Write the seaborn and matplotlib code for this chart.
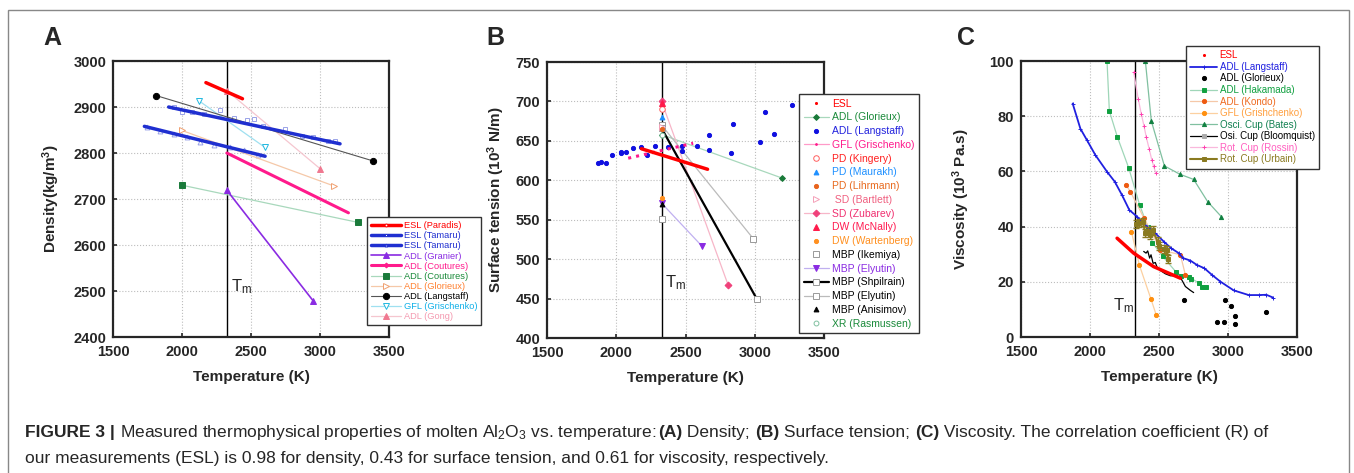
import matplotlib
matplotlib.use('Agg')
import matplotlib.pyplot as plt
import seaborn as sns
from matplotlib.lines import Line2D
from matplotlib.patches import Rectangle

sns.set_style('ticks')
plt.rcParams['font.family'] = ['Liberation Sans', 'DejaVu Sans']
plt.rcParams['mathtext.default'] = 'regular'

T_MELT = 2327

# ---------------- (A) density ----------------
a_paradis_t, a_paradis_v = [2173, 2438], [2953, 2918]
a_tamaru1_t, a_tamaru1_v = [1903, 3145], [2900, 2820]
a_tamaru1_pt_t = [1939, 2000, 2072, 2156, 2277, 2373, 2470, 2518, 2590, 2747, 2868, 2952, 3061, 3109]
a_tamaru1_pt_v = [2899, 2889, 2889, 2884, 2893, 2877, 2871, 2873, 2858, 2852, 2838, 2835, 2826, 2826]
a_tamaru2_t, a_tamaru2_v = [1727, 2602], [2858, 2793]
a_tamaru2_pt_t = [1746, 1843, 1939, 2036, 2132, 2229, 2349, 2446, 2554]
a_tamaru2_pt_v = [2857, 2847, 2842, 2835, 2824, 2817, 2814, 2806, 2795]
a_granier_t, a_granier_v = [2325, 2952], [2719, 2478]
a_cout1_t, a_cout1_v = [2325, 3206], [2800, 2670]
a_cout2_t, a_cout2_v = [2000, 3278], [2730, 2649]
a_glorieux_t, a_glorieux_v = [2000, 3104], [2849, 2728]
a_langstaff_t, a_langstaff_v = [1811, 3382], [2925, 2783]
a_grisch_t, a_grisch_v = [2120, 2602], [2914, 2812]
a_gong_t, a_gong_v = [2327, 3000], [2935, 2766]

# ---------------- (B) surface tension ----------------
b_esl_t, b_esl_v = [2182, 2659], [640, 614]
b_glorieux_t, b_glorieux_v = [2327, 3194], [658, 603]
b_langstaff_t = [1871, 1893, 1924, 1972, 2033, 2037, 2073, 2122, 2175, 2223, 2278, 2370,
                 2471, 2476, 2580, 2671, 2671, 2825, 2842, 3040, 3073, 3141, 3271]
b_langstaff_v = [622, 623, 622, 632, 634, 636, 636, 641, 642, 632, 643, 642,
                 644, 637, 643, 657, 638, 635, 672, 649, 687, 659, 695]
b_grisch_t, b_grisch_v = [2086, 2555], [628, 647]
b_kingery_t, b_kingery_v = [2327], [690]
b_maurakh_t, b_maurakh_v = [2327], [680]
b_lihrmann_t, b_lihrmann_v = [2327], [665]
b_bartlett_t, b_bartlett_v = [2327], [668]
b_zubarev_t, b_zubarev_v = [2327, 2808], [700, 467]
b_mcnally_t, b_mcnally_v = [2327], [698]
b_warten_t, b_warten_v = [2327], [577]
b_ikemiya_t, b_ikemiya_v = [2327], [551]
b_elyutin1_t, b_elyutin1_v = [2327, 2616], [571, 517]
b_shpil_t, b_shpil_v = [2327, 3013], [666, 450]
b_elyutin2_t, b_elyutin2_v = [2327, 2989], [670, 526]
b_anisimov_t, b_anisimov_v = [2327], [570]
b_rasmussen_t, b_rasmussen_v = [2327], [658]

# ---------------- (C) viscosity ----------------
c_esl_t, c_esl_v = [2196, 2316, 2461, 2655], [35.8, 30.4, 25.5, 21.3]
c_langstaff_t = [1874, 1930, 1978, 2039, 2123, 2179, 2232, 2285, 2341, 2413, 2473, 2534, 2587,
                 2643, 2674, 2727, 2775, 2829, 2884, 2944, 3041, 3150, 3222, 3278, 3326]
c_langstaff_v = [84.6, 75.5, 71.3, 65.9, 59.9, 56.3, 51.4, 46.0, 43.6, 40.0, 37.6, 34.6, 32.2,
                 30.4, 28.6, 27.7, 26.1, 24.9, 22.5, 20.1, 16.9, 15.2, 15.2, 15.3, 14.3]
c_glorieux_t = [2679, 2976, 3024, 3053, 3053, 2920, 2973, 3275]
c_glorieux_v = [13.5, 13.3, 11.3, 7.5, 4.8, 5.5, 5.3, 9.0]
c_hakamada_t = [2123, 2140, 2198, 2280, 2360, 2418, 2452, 2527, 2621, 2659, 2717, 2734, 2792, 2812, 2838]
c_hakamada_v = [100, 81.9, 72.5, 61.3, 47.8, 40.0, 34.2, 29.2, 23.7, 22.2, 21.7, 21.2, 19.5, 18.1, 18.1]
c_kondo_t = [2261, 2292, 2389, 2510, 2655, 2691]
c_kondo_v = [55.1, 52.7, 43.3, 31.6, 29.8, 22.5]
c_grisch_t = [2300, 2358, 2442, 2481]
c_grisch_v = [38.1, 26.0, 13.7, 7.8]
c_bates_t = [2401, 2444, 2539, 2650, 2751, 2853, 2952]
c_bates_v = [100, 78.3, 62.0, 59.0, 57.1, 49.0, 43.6]
c_bloom_t = [2389, 2406, 2418, 2432, 2442, 2457, 2473, 2486, 2510, 2546, 2582, 2630,
             2655, 2667, 2691, 2727, 2751]
c_bloom_v = [31.0, 30.4, 31.2, 28.6, 29.8, 26.7, 27.0, 25.3, 24.1, 22.9, 22.2, 22.2,
             21.7, 20.5, 18.3, 16.9, 16.1]
c_rossin_t = [2316, 2350, 2372, 2391, 2408, 2428, 2447, 2461, 2476]
c_rossin_v = [96.0, 86.1, 80.7, 76.5, 72.3, 68.3, 64.3, 61.9, 59.5]
c_urbain_t = [2331, 2355, 2382, 2401, 2418, 2432, 2454, 2490, 2498, 2534, 2558, 2565]
c_urbain_v = [41.0, 41.4, 41.8, 37.6, 38.4, 37.0, 38.6, 34.6, 33.0, 31.9, 31.6, 28.2]
c_urbain_err = [1.5, 1.5, 1.5, 1.5, 1.5, 1.5, 1.5, 1.5, 1.5, 1.5, 1.5, 1.5]


def sty(line, lw=1.0, marker='None', ms=3, mc=None, fill=True, ls='-'):
    mc = mc or line
    return dict(color=line, linewidth=lw, linestyle=ls, marker=marker, markersize=ms,
                markerfacecolor=mc if fill else 'white', markeredgecolor=mc, markeredgewidth=0.7)


def draw(ax, x, y, kw, z=2):
    sns.lineplot(x=x, y=y, ax=ax, estimator=None, sort=False, legend=False, zorder=z, **kw)


def setup(ax, ylim, yticks, ylabel, ypad, letter_x, tm_xy):
    ax.set_xlim(1500, 3500)
    ax.set_ylim(*ylim)
    ax.set_xticks([1500, 2000, 2500, 3000, 3500])
    ax.set_yticks(yticks)
    ax.grid(True, linestyle=':', color='#bdbdbd', linewidth=0.8)
    ax.axvline(T_MELT, color='black', linewidth=1.0, zorder=1.5)
    for s in ax.spines.values():
        s.set_linewidth(1.6)
    ax.tick_params(direction='in', length=3, width=1.2, labelsize=10.5)
    ax.tick_params(axis='x', pad=6)
    ax.tick_params(axis='y', pad=5)
    for lab in ax.get_xticklabels() + ax.get_yticklabels():
        lab.set_fontweight('bold')
    ax.set_xlabel('Temperature (K)', fontsize=11, fontweight='bold', labelpad=8)
    ax.set_ylabel(ylabel, fontsize=11, fontweight='bold', labelpad=ypad)
    ax.text(tm_xy[0], tm_xy[1], 'T$_m$', fontsize=12, ha='left', va='center')
    fig.text(letter_x / 1354, 1 - 38 / 473, ax.get_label(), fontsize=18, fontweight='bold',
             ha='center', va='center')


def legend(entries, anchor, size, spacing, hlen):
    handles = [Line2D([], [], **kw) for _, kw, _ in entries]
    labels = [lab for lab, _, _ in entries]
    leg = fig.legend(handles, labels, loc='upper left', bbox_to_anchor=anchor, fontsize=size,
                     labelspacing=spacing, handlelength=hlen, handletextpad=0.3, borderpad=0.45,
                     borderaxespad=0, fancybox=False, framealpha=1, edgecolor='#333333',
                     numpoints=1)
    leg.get_frame().set_linewidth(1.0)
    for txt, (_, _, col) in zip(leg.get_texts(), entries):
        txt.set_color(col)


fig = plt.figure(figsize=(13.54, 4.73), dpi=100)
fig.patches.append(Rectangle((8 / 1354, -0.05), 1341 / 1354, 1.05 - 10 / 473,
                             transform=fig.transFigure, fill=False, edgecolor='#888888',
                             linewidth=1.0))
ax_a = fig.add_axes([0.0835, 0.2875, 0.2038, 0.5835], label='A')
ax_b = fig.add_axes([0.404, 0.2854, 0.2046, 0.5835], label='B')
ax_c = fig.add_axes([0.7541, 0.2875, 0.2038, 0.5835], label='C')

# ---- panel A ----
s_paradis = sty('#ff0000', lw=2.5, marker='o', ms=2, fill=False)
s_tamaru1 = sty('#1f2fd0', lw=2.5, marker='s', ms=2, fill=False)
s_tamaru2 = sty('#1f2fd0', lw=2.5, marker='^', ms=2, fill=False)
s_granier = sty('#8a2be2', lw=1.2, marker='^', ms=4)
s_cout1 = sty('#ff1a8c', lw=2.2, marker='D', ms=2.5)
s_cout2 = sty('#a8d8bc', lw=0.9, marker='s', ms=4, mc='#1a7a3a')
s_glorieux = sty('#f5c8a8', lw=0.9, marker='>', ms=4.5, mc='#f0a070', fill=False)
s_langstaff = sty('#555555', lw=0.8, marker='o', ms=4.5, mc='black')
s_grisch = sty('#9fe0f0', lw=0.9, marker='v', ms=4.5, mc='#20b8e0', fill=False)
s_gong = sty('#f5c6cf', lw=0.9, marker='^', ms=4, mc='#f07890')

draw(ax_a, a_tamaru1_pt_t, a_tamaru1_pt_v, sty('#9aa3e8', lw=0, ls='None', marker='s', ms=3.5, fill=False), z=1.8)
draw(ax_a, a_tamaru2_pt_t, a_tamaru2_pt_v, sty('#9aa3e8', lw=0, ls='None', marker='^', ms=3.5, fill=False), z=1.8)
draw(ax_a, a_gong_t, a_gong_v, s_gong)
draw(ax_a, a_grisch_t, a_grisch_v, s_grisch)
draw(ax_a, a_glorieux_t, a_glorieux_v, s_glorieux)
draw(ax_a, a_cout2_t, a_cout2_v, s_cout2)
draw(ax_a, a_langstaff_t, a_langstaff_v, s_langstaff)
draw(ax_a, a_granier_t, a_granier_v, s_granier)
draw(ax_a, a_cout1_t, a_cout1_v, sty('#ff1a8c', lw=2.2))
draw(ax_a, a_tamaru1_t, a_tamaru1_v, sty('#1f2fd0', lw=2.5))
draw(ax_a, a_tamaru2_t, a_tamaru2_v, sty('#1f2fd0', lw=2.5))
draw(ax_a, a_paradis_t, a_paradis_v, sty('#ff0000', lw=2.5))
setup(ax_a, (2400, 3000), range(2400, 3001, 100), 'Density(kg/m$^3$)', 8, 52, (2355, 2510))

legend([('ESL (Paradis)', s_paradis, '#ff0000'),
        ('ESL (Tamaru)', s_tamaru1, '#1f2fd0'),
        ('ESL (Tamaru)', s_tamaru2, '#1f2fd0'),
        ('ADL (Granier)', s_granier, '#8a2be2'),
        ('ADL (Coutures)', s_cout1, '#ff1a8c'),
        ('ADL (Coutures)', s_cout2, '#1a8a3a'),
        ('ADL (Glorieux)', s_glorieux, '#ff8030'),
        ('ADL (Langstaff)', s_langstaff, 'black'),
        ('GFL (Grischenko)', s_grisch, '#10b0e8'),
        ('ADL (Gong)', s_gong, '#f49ab0')],
       (367 / 1354, 1 - 217 / 473), 6.7, 0.12, 3.2)

# ---- panel B ----
s_esl_dot = sty('#ff0000', ls='None', marker='.', ms=3)
s_b_glorieux = sty('#a8d8bc', lw=0.9, marker='D', ms=3, mc='#1a7a3a')
s_b_langstaff = sty('#1010e0', ls='None', marker='o', ms=3)
s_b_grisch = sty('#ff1a8c', lw=2.2, ls=':', marker='None')
s_b_grisch_leg = sty('#ff9ac8', lw=0.9, marker='.', ms=2.5, mc='#ff1a8c')
s_kingery = sty('#ff6060', ls='None', marker='o', ms=4, fill=False)
s_maurakh = sty('#1e90ff', ls='None', marker='^', ms=3.5)
s_lihrmann = sty('#e8641e', ls='None', marker='o', ms=3)
s_bartlett = sty('#f5a0b8', ls='None', marker='>', ms=4, fill=False)
s_zubarev = sty('#f7b6c8', lw=0.9, marker='D', ms=3.5, mc='#f0407a')
s_mcnally = sty('#ff1a4a', ls='None', marker='^', ms=4)
s_warten = sty('#ff9020', ls='None', marker='o', ms=3)
s_ikemiya = sty('#999999', ls='None', marker='s', ms=4, fill=False)
s_elyutin1 = sty('#c0b0f0', lw=0.9, marker='v', ms=4, mc='#8a2be2')
s_shpil = sty('black', lw=1.6, marker='s', ms=4, mc='#999999', fill=False)
s_elyutin2 = sty('#bbbbbb', lw=0.9, marker='s', ms=4, mc='#999999', fill=False)
s_anisimov = sty('black', ls='None', marker='^', ms=3.5)
s_rasmussen = sty('#80c0a0', ls='None', marker='o', ms=3.5, fill=False)

draw(ax_b, b_glorieux_t, b_glorieux_v, s_b_glorieux)
draw(ax_b, b_zubarev_t, b_zubarev_v, s_zubarev)
draw(ax_b, b_elyutin2_t, b_elyutin2_v, s_elyutin2)
draw(ax_b, b_elyutin1_t, b_elyutin1_v, s_elyutin1)
draw(ax_b, b_shpil_t, b_shpil_v, s_shpil)
draw(ax_b, b_langstaff_t, b_langstaff_v, s_b_langstaff)
draw(ax_b, b_grisch_t, b_grisch_v, s_b_grisch)
draw(ax_b, b_esl_t, b_esl_v, sty('#ff0000', lw=2.5))
for t, v, s in [(b_kingery_t, b_kingery_v, s_kingery), (b_maurakh_t, b_maurakh_v, s_maurakh),
                (b_bartlett_t, b_bartlett_v, s_bartlett), (b_lihrmann_t, b_lihrmann_v, s_lihrmann),
                (b_rasmussen_t, b_rasmussen_v, s_rasmussen), (b_mcnally_t, b_mcnally_v, s_mcnally),
                (b_warten_t, b_warten_v, s_warten), (b_ikemiya_t, b_ikemiya_v, s_ikemiya),
                (b_anisimov_t, b_anisimov_v, s_anisimov)]:
    draw(ax_b, t, v, s, z=3)
setup(ax_b, (400, 750), range(400, 751, 50), 'Surface tension (10$^3$ N/m)', 6, 495, (2355, 470))

legend([('ESL', s_esl_dot, '#ff0000'),
        ('ADL (Glorieux)', s_b_glorieux, '#1a8a3a'),
        ('ADL (Langstaff)', s_b_langstaff, '#2222dd'),
        ('GFL (Grischenko)', s_b_grisch_leg, '#ff1a8c'),
        ('PD (Kingery)', s_kingery, '#ff2020'),
        ('PD (Maurakh)', s_maurakh, '#1e90ff'),
        ('PD (Lihrmann)', s_lihrmann, '#e86a1e'),
        (' SD (Bartlett)', s_bartlett, '#f06080'),
        ('SD (Zubarev)', s_zubarev, '#f03070'),
        ('DW (McNally)', s_mcnally, '#ff1a50'),
        ('DW (Wartenberg)', s_warten, '#ff9020'),
        ('MBP (Ikemiya)', s_ikemiya, 'black'),
        ('MBP (Elyutin)', s_elyutin1, '#8a2be2'),
        ('MBP (Shpilrain)', s_shpil, 'black'),
        ('MBP (Elyutin)', s_elyutin2, 'black'),
        ('MBP (Anisimov)', s_anisimov, 'black'),
        ('XR (Rasmussen)', s_rasmussen, '#1a8a3a')],
       (799 / 1354, 1 - 94 / 473), 7.5, 0.36, 2.4)

# ---- panel C ----
s_c_langstaff = sty('#2020e0', lw=1.3, marker='+', ms=3)
s_c_glorieux = sty('black', ls='None', marker='o', ms=3)
s_hakamada = sty('#9fd6b8', lw=0.9, marker='s', ms=3.5, mc='#10a040')
s_kondo = sty('#f5c8a8', lw=0.9, marker='o', ms=3, mc='#ee5a10')
s_c_grisch = sty('#fcd0a0', lw=0.9, marker='o', ms=3, mc='#ff9010')
s_bates = sty('#80c0a0', lw=0.9, marker='^', ms=3, mc='#108040')
s_bloom = sty('black', lw=0.9, marker='s', ms=3, mc='#aaaaaa')
s_rossin = sty('#f9b8dc', lw=0.9, marker='+', ms=3, mc='#ff40b0')
s_urbain = sty('#8a7a20', lw=1.5, marker='s', ms=3)

draw(ax_c, c_bates_t, c_bates_v, s_bates)
draw(ax_c, c_hakamada_t, c_hakamada_v, s_hakamada)
draw(ax_c, c_rossin_t, c_rossin_v, s_rossin)
draw(ax_c, c_kondo_t, c_kondo_v, s_kondo)
draw(ax_c, c_grisch_t, c_grisch_v, s_c_grisch)
draw(ax_c, c_langstaff_t, c_langstaff_v, s_c_langstaff)
draw(ax_c, c_bloom_t, c_bloom_v, sty('black', lw=0.9))
draw(ax_c, c_esl_t, c_esl_v, sty('#ff0000', lw=2.5))
ax_c.errorbar(c_urbain_t, c_urbain_v, yerr=c_urbain_err, fmt='none', ecolor='#8a7a20',
              elinewidth=1.0, capsize=2, zorder=2.5)
draw(ax_c, c_urbain_t, c_urbain_v, s_urbain, z=2.6)
draw(ax_c, c_glorieux_t, c_glorieux_v, s_c_glorieux, z=3)
setup(ax_c, (0, 100), range(0, 101, 20), 'Viscosity (10$^3$ Pa.s)', 13, 966, (2165, 11.3))

legend([('ESL', s_esl_dot, '#ff0000'),
        ('ADL (Langstaff)', s_c_langstaff, '#2020e0'),
        ('ADL (Glorieux)', s_c_glorieux, 'black'),
        ('ADL (Hakamada)', s_hakamada, '#10a040'),
        ('ADL (Kondo)', s_kondo, '#ee6a20'),
        ('GFL (Grishchenko)', s_c_grisch, '#ffa040'),
        ('Osci. Cup (Bates)', s_bates, '#108050'),
        ('Osi. Cup (Bloomquist)', s_bloom, 'black'),
        ('Rot. Cup (Rossin)', s_rossin, '#ff60c0'),
        ('Rot. Cup (Urbain)', s_urbain, '#8a7a20')],
       (1186 / 1354, 1 - 46 / 473), 7, 0.16, 2.7)

# ---- caption ----
renderer = fig.canvas.get_renderer()


def rich_line(y, parts, size=12.5):
    x = 25 / 1354
    for txt, weight in parts:
        t = fig.text(x, y, txt, fontsize=size, fontweight=weight, va='baseline')
        x += t.get_window_extent(renderer).width / fig.bbox.width


rich_line(1 - 437 / 473, [('FIGURE 3', 'bold'), (' | ', 'bold'),
                          ('Measured thermophysical properties of molten Al$_2$O$_3$ vs. temperature: ', 'normal'),
                          ('(A)', 'bold'), (' Density; ', 'normal'), ('(B)', 'bold'),
                          (' Surface tension; ', 'normal'), ('(C)', 'bold'),
                          (' Viscosity. The correlation coefficient (R) of', 'normal')])
rich_line(1 - 463 / 473, [('our measurements (ESL) is 0.98 for density, 0.43 for surface tension, '
                           'and 0.61 for viscosity, respectively.', 'normal')])

fig.savefig('out.png', dpi=100)
